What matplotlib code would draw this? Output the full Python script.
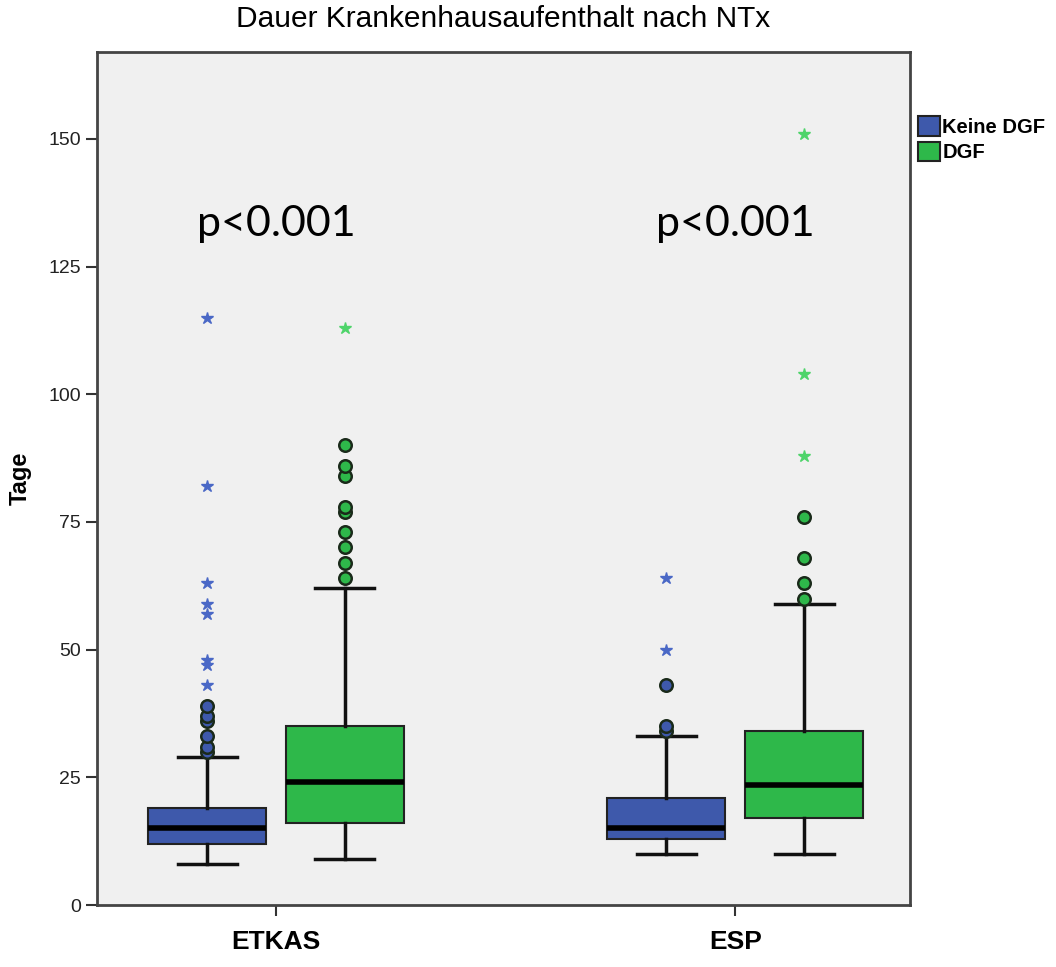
import matplotlib
matplotlib.use("Agg")
import matplotlib.pyplot as plt
from matplotlib.patches import Patch

# groups and series
groups = ["ETKAS", "ESP"]
series = ["Keine DGF", "DGF"]
colors = ["#3E59AB", "#2EB84A"]
star_colors = ["#4A68C6", "#4ED46A"]

# box statistics per group, per series: (whislo, q1, med, q3, whishi)
stats_keine = [(8, 12, 15, 19, 29), (10, 13, 15, 21, 33)]
stats_dgf = [(9, 16, 24, 35, 62), (10, 17, 23.5, 34, 59)]

# outliers (circles) and extremes (stars)
circles_keine = [[30, 31, 33, 36, 37, 39], [34, 35, 43]]
stars_keine = [[43, 47, 48, 57, 59, 63, 82, 115], [50, 64]]
circles_dgf = [[64, 67, 70, 73, 77, 78, 84, 86, 90], [60, 63, 68, 76]]
stars_dgf = [[113], [88, 104, 151]]

p_labels = ["p<0.001", "p<0.001"]

fig = plt.figure(figsize=(10.56, 9.67), dpi=100)
ax = fig.add_axes([0.0919, 0.0641, 0.77, 0.8821])
ax.set_facecolor("#F0F0F0")

offset = 0.15
width = 0.257

for s_idx, (stats, circ, stars) in enumerate([
        (stats_keine, circles_keine, stars_keine),
        (stats_dgf, circles_dgf, stars_dgf)]):
    sign = -1 if s_idx == 0 else 1
    bxp_stats = []
    positions = []
    for g_idx, (lo, q1, med, q3, hi) in enumerate(stats):
        bxp_stats.append(dict(whislo=lo, q1=q1, med=med, q3=q3, whishi=hi, fliers=[]))
        positions.append(g_idx + sign * offset)
    ax.bxp(bxp_stats, positions=positions, widths=width, patch_artist=True,
           showfliers=False,
           boxprops=dict(facecolor=colors[s_idx], edgecolor="#222222", linewidth=1.5),
           medianprops=dict(color="black", linewidth=4, solid_capstyle="butt"),
           whiskerprops=dict(color="#111111", linewidth=2.5),
           capprops=dict(color="#111111", linewidth=2.5))
    for g_idx in range(len(groups)):
        x = g_idx + sign * offset
        ax.plot([x] * len(circ[g_idx]), circ[g_idx], "o", ms=9,
                mfc=colors[s_idx], mec="#1a2a1a", mew=1.8, zorder=4)
        ax.plot([x] * len(stars[g_idx]), stars[g_idx], "*", ms=9,
                color=star_colors[s_idx], mec=star_colors[s_idx], zorder=4)

for g_idx, lab in enumerate(p_labels):
    ax.text(g_idx, 131, lab, ha="center", va="baseline", fontsize=31,
            family="Lato")

ax.set_xlim(-0.39, 1.381)
ax.set_ylim(0, 167)
ax.set_yticks([0, 25, 50, 75, 100, 125, 150])
ax.set_xticks(range(len(groups)))
ax.set_xticklabels(groups, fontsize=19, fontweight="bold", family="Liberation Sans")
ax.tick_params(axis="y", labelsize=14, length=8, width=1.5, colors="#333333",
               labelcolor="#222222")
ax.tick_params(axis="x", length=8, width=1.5, colors="#333333", labelcolor="black",
               pad=10)
for lab in ax.get_yticklabels():
    lab.set_family("Liberation Sans")
for sp in ax.spines.values():
    sp.set_color("#444444")
    sp.set_linewidth(2)

ax.set_ylabel("Tage", fontsize=17, fontweight="bold", family="Liberation Sans",
              labelpad=12)
fig.text(0.476, 0.980, "Dauer Krankenhausaufenthalt nach NTx", ha="center",
         va="center", fontsize=21.5, family="Liberation Sans")

handles = [Patch(facecolor=c, edgecolor="#222222", linewidth=1.5) for c in colors]
leg = fig.legend(handles, series, loc="upper left", bbox_to_anchor=(0.862, 0.888),
                 frameon=False, handlelength=1.1, handleheight=1.1,
                 handletextpad=0.1, labelspacing=0.25, borderaxespad=0,
                 prop=dict(family="Liberation Sans", weight="bold", size=14.5))

fig.savefig("out.png", dpi=100, facecolor="white")
